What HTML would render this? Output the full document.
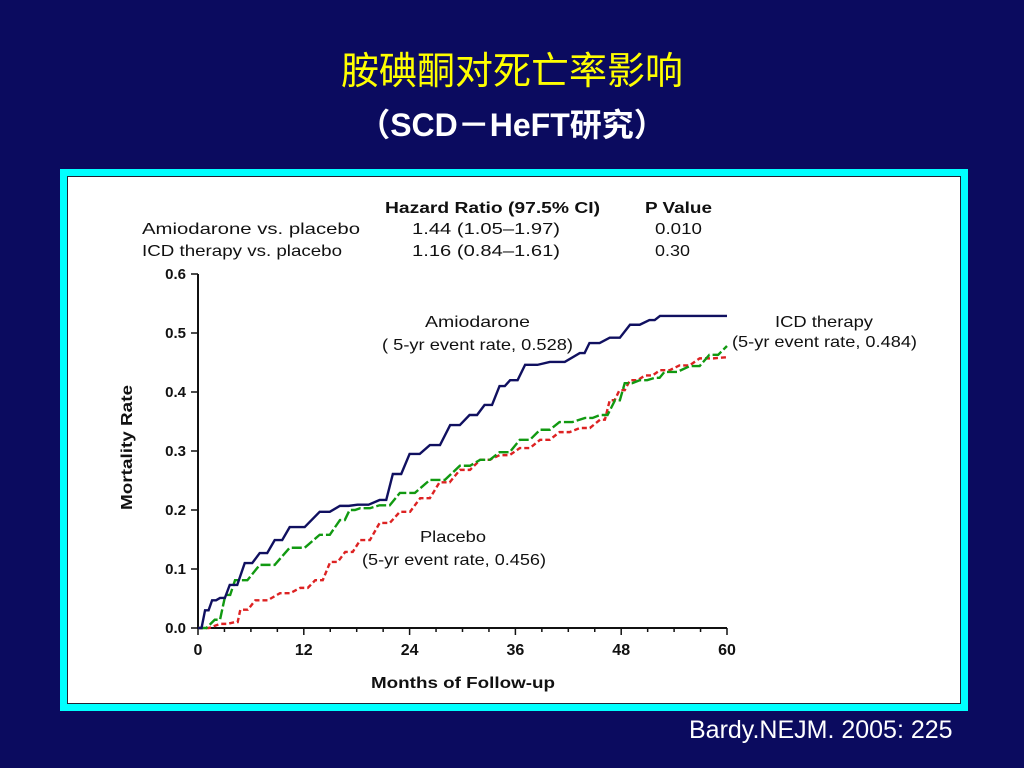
<!DOCTYPE html>
<html><head><meta charset="utf-8"><style>
body{margin:0;width:1024px;height:768px;background:#0b0b5f;overflow:hidden;font-family:"Liberation Sans","Noto Sans CJK SC",sans-serif;position:relative}
.t1{position:absolute;top:40px;left:0;width:1024px;text-align:center;color:#ffff00;font-size:38px;font-family:"Noto Sans CJK SC","WenQuanYi Zen Hei",sans-serif}
.t2{position:absolute;top:100px;left:0;width:1024px;text-align:center;color:#fff;font-size:32px;font-weight:bold}
.frame{position:absolute;left:60px;top:169px;width:894px;height:528px;background:#00ffff;padding:7px}
.inner{width:892px;height:526px;background:#fff;border:1px solid #223}
.foot{position:absolute;left:689px;top:716px;color:#fff;font-size:25px}
</style></head><body>
<div class="t1">胺碘酮对死亡率影响</div>
<div class="t2">（SCD－HeFT研究）</div>
<div class="frame"><div class="inner"></div></div>
<svg id="c" width="1024" height="768" style="position:absolute;left:0;top:0" font-family="Liberation Sans, sans-serif">
<g font-size="16" fill="#111" lengthAdjust="spacingAndGlyphs">
<text x="385" y="213" font-weight="bold" textLength="215" lengthAdjust="spacingAndGlyphs">Hazard Ratio (97.5% CI)</text>
<text x="645" y="213" font-weight="bold" textLength="67" lengthAdjust="spacingAndGlyphs">P Value</text>
<text x="142" y="234" textLength="218" lengthAdjust="spacingAndGlyphs">Amiodarone vs. placebo</text>
<text x="142" y="256" textLength="200" lengthAdjust="spacingAndGlyphs">ICD therapy vs. placebo</text>
<text x="412" y="234" textLength="148" lengthAdjust="spacingAndGlyphs">1.44 (1.05–1.97)</text>
<text x="412" y="256" textLength="148" lengthAdjust="spacingAndGlyphs">1.16 (0.84–1.61)</text>
<text x="655" y="234" textLength="47" lengthAdjust="spacingAndGlyphs">0.010</text>
<text x="655" y="256" textLength="35" lengthAdjust="spacingAndGlyphs">0.30</text>
<text x="425" y="327" textLength="105" lengthAdjust="spacingAndGlyphs">Amiodarone</text>
<text x="382" y="350" textLength="191" lengthAdjust="spacingAndGlyphs">( 5-yr event rate, 0.528)</text>
<text x="775" y="327" textLength="98" lengthAdjust="spacingAndGlyphs">ICD therapy</text>
<text x="732" y="347" textLength="185" lengthAdjust="spacingAndGlyphs">(5-yr event rate, 0.484)</text>
<text x="420" y="542" textLength="66" lengthAdjust="spacingAndGlyphs">Placebo</text>
<text x="362" y="565" textLength="184" lengthAdjust="spacingAndGlyphs">(5-yr event rate, 0.456)</text>
<text x="371" y="688" font-weight="bold" textLength="184" lengthAdjust="spacingAndGlyphs">Months of Follow-up</text>
<text transform="translate(132,510) rotate(-90)" font-weight="bold" textLength="125" lengthAdjust="spacingAndGlyphs">Mortality Rate</text>
</g>
<g id="ax"></g><g id="series"></g>
</svg>
<div class="foot">Bardy.NEJM. 2005: 225</div>
<script>
const xTicks=[0,12,24,36,48,60];
const yTicks=[0.0,0.1,0.2,0.3,0.4,0.5,0.6];
const amioM=[0,0.8,1.6,2.5,3.6,5.3,7.0,8.7,10.4,13.8,16.1,18.1,20.6,22.1,24.0,26.3,28.6,30.8,32.5,34.2,35.4,37.1,39.9,43.3,44.4,46.7,49.0,51.2,52.4,60];
const amioV=[0,0.03,0.047,0.051,0.073,0.110,0.127,0.149,0.171,0.197,0.207,0.209,0.217,0.261,0.295,0.310,0.344,0.361,0.378,0.410,0.420,0.446,0.451,0.466,0.483,0.492,0.514,0.522,0.529,0.529];
const icdM=[0,1.9,3.1,4.2,7.0,10.4,13.8,16.1,17.2,18.4,20.6,22.9,26.3,29.7,32.0,34.2,36.5,38.8,41.0,43.9,45.6,47.3,48.4,50.1,51.8,52.9,55.8,58.0,60];
const icdV=[0,0.014,0.056,0.081,0.107,0.136,0.158,0.183,0.200,0.203,0.208,0.229,0.251,0.275,0.285,0.298,0.319,0.336,0.349,0.356,0.361,0.386,0.415,0.420,0.424,0.434,0.444,0.463,0.478];
const plaM=[0,2.5,4.2,4.8,6.5,9.3,11.6,13.3,15.0,16.7,18.4,20.6,22.9,25.2,27.4,29.7,32.0,34.2,36.5,38.8,41.0,43.3,45.6,46.7,47.8,49.0,50.7,52.4,54.6,56.9,60];
const plaV=[0,0.007,0.010,0.031,0.047,0.059,0.068,0.081,0.112,0.129,0.149,0.178,0.197,0.220,0.247,0.268,0.285,0.293,0.305,0.319,0.332,0.339,0.353,0.386,0.403,0.420,0.428,0.437,0.445,0.457,0.459];
const X=m=>198+m*(529/60), Y=v=>628-v*590;
const NS='http://www.w3.org/2000/svg';
const ax=document.getElementById('ax'), sg=document.getElementById('series');
function mk(p,tag,a){const e=document.createElementNS(NS,tag);for(const k in a)e.setAttribute(k,a[k]);p.appendChild(e);return e;}
const yl=mk(ax,'line',{x1:X(0),y1:Y(0.6),x2:X(0),y2:Y(0)+1,stroke:'#111','stroke-width':2});


const xl=mk(ax,'line',{x1:X(0)-1,y1:Y(0),x2:X(60),y2:Y(0),stroke:'#111','stroke-width':2});


yTicks.forEach(v=>{mk(ax,'line',{x1:X(0)-7,y1:Y(v),x2:X(0),y2:Y(v),stroke:'#111','stroke-width':1.5});
const t=mk(ax,'text',{x:X(0)-12,y:Y(v)+5,'text-anchor':'end','font-size':15,'font-weight':'bold',fill:'#111'});t.textContent=v.toFixed(1);

});
for(let m=0;m<=60;m+=3){mk(ax,'line',{x1:X(m),y1:Y(0),x2:X(m),y2:Y(0)+(m%12?4:7),stroke:'#111','stroke-width':1.5});}
xTicks.forEach(m=>{const t=mk(ax,'text',{x:X(m),y:655,'text-anchor':'middle','font-size':16,'font-weight':'bold',fill:'#111'});t.textContent=m;

});
function path(M,V){let d='M'+X(M[0])+','+Y(V[0]);for(let i=1;i<M.length;i++){const xm=(X(M[i-1])+X(M[i]))/2;d+=' L'+xm+','+Y(V[i-1])+' L'+X(M[i])+','+Y(V[i]);}return d;}
const p1=mk(sg,'path',{d:path(plaM,plaV),fill:'none',stroke:'#d22','stroke-width':2.4,'stroke-dasharray':'5 3'});


const p2=mk(sg,'path',{d:path(icdM,icdV),fill:'none',stroke:'#119911','stroke-width':2.4,'stroke-dasharray':'10 3'});


const p3=mk(sg,'path',{d:path(amioM,amioV),fill:'none',stroke:'#101060','stroke-width':2.4});


</script>
</body></html>
